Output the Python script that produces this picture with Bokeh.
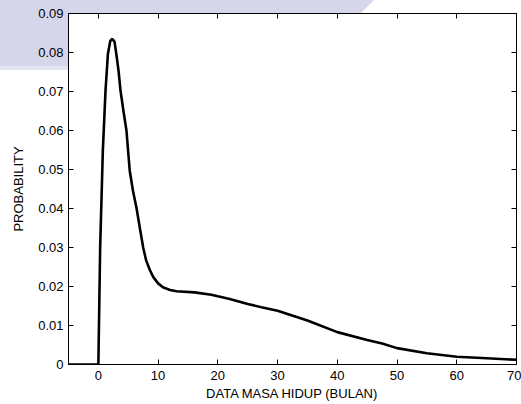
from bokeh.plotting import figure
from bokeh.models import (Range1d, FixedTicker, LinearAxis, CustomLabelingPolicy,
                          InlineStyleSheet)
from bokeh.embed import file_html
from bokeh.resources import INLINE

# ---- data ----
months = [-5, 0, 0.3, 0.75, 1.2, 1.6, 2.0, 2.3, 2.7, 3.0, 3.4, 3.7, 4.2, 4.7,
          5.25, 5.8, 6.4, 7.0, 7.5, 8.0, 8.6, 9.2, 10.0, 10.8, 12.0, 13.1,
          16.1, 18.9, 20.0, 22.0, 25.0, 27.3, 30.0, 35.0, 40.0, 45.0, 47.5,
          50.0, 55.0, 60.0, 65.0, 70.0]
probability = [0.0, 0.0, 0.030, 0.0549, 0.0703, 0.0797, 0.0830, 0.0835,
               0.0828, 0.0797, 0.0750, 0.0703, 0.0650, 0.0600,
               0.0497, 0.0445, 0.0400, 0.0345, 0.0300, 0.0267, 0.0243,
               0.0224, 0.0208, 0.0198, 0.0191, 0.0188,
               0.0185, 0.0179, 0.0175, 0.0168, 0.0155, 0.0147, 0.0138,
               0.0113, 0.0083, 0.0063, 0.0054,
               0.0042, 0.0029, 0.0020, 0.0016, 0.0012]
x_ticks = [0, 10, 20, 30, 40, 50, 60, 70]
y_ticks = [0, 0.01, 0.02, 0.03, 0.04, 0.05, 0.06, 0.07, 0.08, 0.09]
y_tick_labels = ["0", "0.01", "0.02", "0.03", "0.04", "0.05", "0.06",
                 "0.07", "0.08", "0.09"]
x_title = "DATA MASA HIDUP (BULAN)"
y_title = "PROBABILITY"

FONT = "Liberation Sans"
BAND = "#d6d6ea"

p = figure(width=521, height=404, output_backend="svg", toolbar_location=None,
           x_range=Range1d(-5, 70), y_range=Range1d(0, 0.09),
           min_border_left=68, min_border_right=5, min_border_top=13,
           min_border_bottom=40)
p.grid.visible = False
p.background_fill_color = "white"
p.border_fill_color = None   # let the decorative page band show in the margins
p.outline_line_color = "black"
p.outline_line_width = 1

# decorative lavender band behind the top-left margin (page decoration)
css = f"""
:host {{ isolation: isolate; background: white; border-radius: 0; }}
:host::before {{
  content: ""; position: absolute; left: 0px; top: 0px;
  width: 380px; height: 70px; z-index: -1; pointer-events: none;
  background: linear-gradient({BAND} 95%, #e4e4f1 95%);
  clip-path: polygon(0px 0px, 374px 0px, 304px 70px, 0px 70px);
}}
"""
p.stylesheets = [InlineStyleSheet(css=css)]

p.line(months, probability, line_color="black", line_width=2.6)

no_labels = CustomLabelingPolicy(code="""
for (const i of indices)
  indices.unset(i)
""")

def style(ax, show_labels):
    ax.axis_line_color = "black"
    ax.major_tick_line_color = "black"
    ax.major_tick_in = 5
    ax.major_tick_out = 0
    ax.minor_tick_line_color = None
    ax.major_label_text_font = FONT
    ax.major_label_text_color = "black"
    ax.axis_label_text_font = FONT
    ax.axis_label_text_font_style = "normal"
    ax.axis_label_text_color = "black"
    ax.axis_label_text_font_size = "13px"
    if show_labels:
        ax.major_label_text_font_size = "13px"
    else:
        ax.major_label_text_font_size = "1px"
        ax.major_label_standoff = 0
        ax.major_label_policy = no_labels

xa = p.xaxis[0]
xa.ticker = FixedTicker(ticks=x_ticks)
style(xa, True)
xa.major_label_standoff = 6
xa.axis_label = x_title
xa.axis_label_standoff = 3

ya = p.yaxis[0]
ya.ticker = FixedTicker(ticks=y_ticks)
ya.major_label_overrides = {t: s for t, s in zip(y_ticks, y_tick_labels)}
style(ya, True)
ya.major_label_standoff = 5
ya.axis_label = y_title
ya.axis_label_standoff = 9

top = LinearAxis(ticker=FixedTicker(ticks=x_ticks))
style(top, False)
p.add_layout(top, "above")
right = LinearAxis(ticker=FixedTicker(ticks=y_ticks))
style(right, False)
p.add_layout(right, "right")

open("out.html", "w").write(file_html(p, INLINE))
